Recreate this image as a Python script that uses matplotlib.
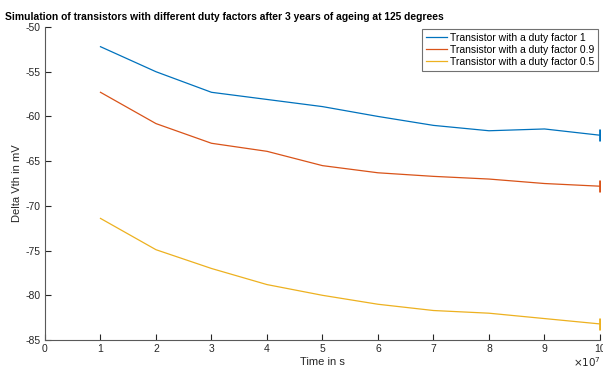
import matplotlib.pyplot as plt
from matplotlib.ticker import FuncFormatter

plt.rcParams['font.family'] = ['Liberation Sans', 'DejaVu Sans']
plt.rcParams['axes.unicode_minus'] = False

# time in s
time_s = [1e7, 2e7, 3e7, 4e7, 5e7, 6e7, 7e7, 8e7, 9e7, 10e7]
dvth_df1 = [-52.2, -55.0, -57.3, -58.1, -58.9, -60.0, -61.0, -61.6, -61.4, -62.1]
dvth_df09 = [-57.3, -60.8, -63.0, -63.9, -65.5, -66.3, -66.7, -67.0, -67.5, -67.8]
dvth_df05 = [-71.4, -74.9, -77.0, -78.8, -80.0, -81.0, -81.7, -82.0, -82.6, -83.2]
labels = ['Transistor with a duty factor 1',
          'Transistor with a duty factor 0.9',
          'Transistor with a duty factor 0.5']
colors = ['#0072BD', '#D95319', '#EDB120']

fig = plt.figure(figsize=(6.03, 3.70), dpi=100)
ax = fig.add_axes([0.0746, 0.081, 0.9204, 0.846])

for y, lab, c in zip([dvth_df1, dvth_df09, dvth_df05], labels, colors):
    ax.plot(time_s, y, color=c, lw=0.9, label=lab)
    # small end marker like the errorbar cap in the original
    ax.plot(time_s[-1], y[-1], marker='|', color=c, ms=8, mew=2, ls='none')

ax.set_xlim(0, 1e8)
ax.set_ylim(-85, -50)
ax.set_xticks([i * 1e7 for i in range(11)])
ax.set_yticks(range(-85, -49, 5))
ax.xaxis.set_major_formatter(FuncFormatter(lambda v, p: '%g' % (v / 1e7)))
ax.tick_params(direction='in', length=4, width=0.8, labelsize=7.5,
               colors='0.15', pad=3)

for s in ['top', 'right']:
    ax.spines[s].set_visible(False)
for s in ['left', 'bottom']:
    ax.spines[s].set_color('0.35')
    ax.spines[s].set_linewidth(0.8)

ax.set_xlabel('Time in s', fontsize=8, color='0.15', labelpad=2)
ax.set_ylabel('Delta Vth in mV', fontsize=8, color='0.15', labelpad=3)
fig.text(0.997, 0.003, r'$\times10^{7}$', fontsize=7.5,
         ha='right', va='bottom', color='0.15')

fig.text(0.008, 0.955, 'Simulation of transistors with different duty factors '
         'after 3 years of ageing at 125 degrees', fontsize=7.4,
         fontweight='bold', ha='left', va='center')

leg_handles = ax.get_lines()[0::2]
leg = ax.legend(leg_handles, labels, loc='upper right', fontsize=7.5,
                frameon=True, fancybox=False, handlelength=2.0,
                handletextpad=0.3, borderpad=0.35, labelspacing=0.2,
                bbox_to_anchor=(1.0, 1.0), borderaxespad=0.2)
leg.get_frame().set_edgecolor('0.3')
leg.get_frame().set_linewidth(0.8)

fig.savefig('out.png', dpi=100)
